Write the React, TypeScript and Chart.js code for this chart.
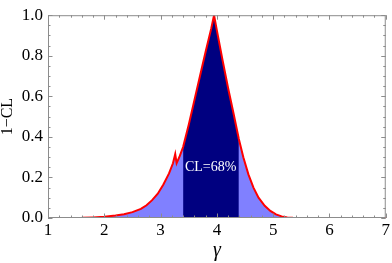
import React, { useEffect, useRef } from "react";
import { Chart, registerables } from "chart.js";

Chart.register(...registerables);

// gamma values and 1-CL values
const gammaVals = [
  1.0, 1.6, 1.8, 2.0, 2.2, 2.35, 2.5, 2.65, 2.75, 2.85, 2.95, 3.05, 3.15, 3.22, 3.26, 3.285, 3.34,
  3.4, 3.5, 3.6, 3.7, 3.8, 3.9, 3.95, 4.0, 4.1, 4.2, 4.3, 4.39, 4.47, 4.56, 4.65,
  4.74, 4.85, 4.95, 5.05, 5.15, 5.25, 5.35, 5.5, 7.0,
];
const clVals = [
  0.0, 0.001, 0.003, 0.006, 0.012, 0.019, 0.029, 0.045, 0.063, 0.088, 0.12, 0.165, 0.22, 0.27, 0.315, 0.27, 0.305,
  0.35, 0.46, 0.58, 0.7, 0.82, 0.935, 1.0, 0.925, 0.78, 0.64, 0.51, 0.39, 0.3, 0.215, 0.15,
  0.1, 0.06, 0.035, 0.018, 0.008, 0.003, 0.001, 0.0, 0.0,
];
// 68% CL interval
const clLow = 3.4;
const clHigh = 4.39;
const clLabel = "CL=68%";
const clLabelPos = { x: 3.89, y: 0.25 };

const xTicks = [1, 2, 3, 4, 5, 6, 7];
const yTicks = [0, 0.2, 0.4, 0.6, 0.8, 1.0];

const SERIF = "'Liberation Serif', 'Times New Roman', serif";

const framePlugin = {
  id: "frame",
  afterDatasetsDraw(chart: any) {
    const { ctx, chartArea: a, scales } = chart;
    const x = scales.x;
    const y = scales.y;
    ctx.save();
    ctx.strokeStyle = "#8c8c8c";
    ctx.lineWidth = 1;
    ctx.strokeRect(a.left + 0.5, a.top + 0.5, a.right - a.left - 1, a.bottom - a.top - 1);
    ctx.beginPath();
    const xMin = xTicks[0];
    const xMax = xTicks[xTicks.length - 1];
    const nx = Math.round((xMax - xMin) / 0.2);
    for (let i = 0; i <= nx; i++) {
      const v = xMin + i * 0.2;
      const px = Math.round(x.getPixelForValue(v)) + 0.5;
      const len = i % 5 === 0 ? 4.5 : 2.5;
      ctx.moveTo(px, a.bottom);
      ctx.lineTo(px, a.bottom - len);
      ctx.moveTo(px, a.top);
      ctx.lineTo(px, a.top + len);
    }
    const ny = Math.round(1 / 0.05);
    for (let i = 0; i <= ny; i++) {
      const v = i * 0.05;
      const py = Math.round(y.getPixelForValue(v)) + 0.5;
      const len = i % 4 === 0 ? 4.5 : 2.5;
      ctx.moveTo(a.left, py);
      ctx.lineTo(a.left + len, py);
      ctx.moveTo(a.right, py);
      ctx.lineTo(a.right - len, py);
    }
    ctx.stroke();
    ctx.fillStyle = "#ffffff";
    ctx.font = `14px ${SERIF}`;
    ctx.textAlign = "center";
    ctx.textBaseline = "middle";
    ctx.fillText(clLabel, x.getPixelForValue(clLabelPos.x), y.getPixelForValue(clLabelPos.y));
    ctx.restore();
  },
};

export default function App() {
  const ref = useRef<HTMLCanvasElement | null>(null);
  useEffect(() => {
    if (!ref.current) return;
    const curve = gammaVals.map((g, i) => ({ x: g, y: clVals[i] }));
    const inner = curve.filter((p) => p.x >= clLow && p.x <= clHigh);
    const chart = new Chart(ref.current, {
      type: "line",
      data: {
        datasets: [
          {
            data: curve,
            borderColor: "#ff0000",
            borderWidth: 2,
            pointRadius: 0,
            fill: false,
            tension: 0,
            order: 0,
          },
          {
            data: inner,
            borderWidth: 0,
            borderColor: "rgba(0,0,0,0)",
            backgroundColor: "#000080",
            pointRadius: 0,
            fill: "origin",
            tension: 0,
            order: 1,
          },
          {
            data: curve,
            borderWidth: 0,
            borderColor: "rgba(0,0,0,0)",
            backgroundColor: "#8080ff",
            pointRadius: 0,
            fill: "origin",
            tension: 0,
            order: 2,
          },
        ],
      },
      options: {
        animation: false,
        responsive: false,
        maintainAspectRatio: false,
        layout: { padding: { top: 9, right: 4, left: 0, bottom: 0 } },
        plugins: { legend: { display: false }, tooltip: { enabled: false } },
        scales: {
          x: {
            type: "linear",
            min: xTicks[0],
            max: xTicks[xTicks.length - 1],
            grid: { display: false, drawTicks: false },
            border: { display: false },
            afterBuildTicks: (s: any) => {
              s.ticks = xTicks.map((v) => ({ value: v }));
            },
            afterFit: (s: any) => {
              s.height = 45;
            },
            ticks: {
              padding: 2,
              color: "#000",
              font: { family: SERIF, size: 17, lineHeight: 1.2 },
              callback: (v: any) => String(v),
              maxRotation: 0,
            },
            title: {
              display: true,
              text: "γ",
              color: "#000",
              font: { family: SERIF, size: 20, style: "italic", lineHeight: 1 },
              padding: { top: 0, bottom: 2 },
            },
          },
          y: {
            type: "linear",
            min: 0,
            max: 1,
            grid: { display: false, drawTicks: false },
            border: { display: false },
            afterBuildTicks: (s: any) => {
              s.ticks = yTicks.map((v) => ({ value: v }));
            },
            afterFit: (s: any) => {
              s.width = 48;
            },
            ticks: {
              padding: 5,
              color: "#000",
              font: { family: SERIF, size: 17, lineHeight: 1.2 },
              callback: (v: any) => Number(v).toFixed(1),
            },
            title: {
              display: true,
              text: "1−CL",
              color: "#000",
              font: { family: SERIF, size: 16, lineHeight: 1 },
              padding: { top: 0, bottom: 0 },
            },
          },
        },
      },
      plugins: [framePlugin],
    });
    return () => chart.destroy();
  }, []);
  return (
    <div style={{ position: "absolute", left: 0, top: 0, width: 392, height: 263, background: "#fff" }}>
      <canvas ref={ref} width={392} height={263} style={{ width: 392, height: 263, display: "block" }} />
    </div>
  );
}
